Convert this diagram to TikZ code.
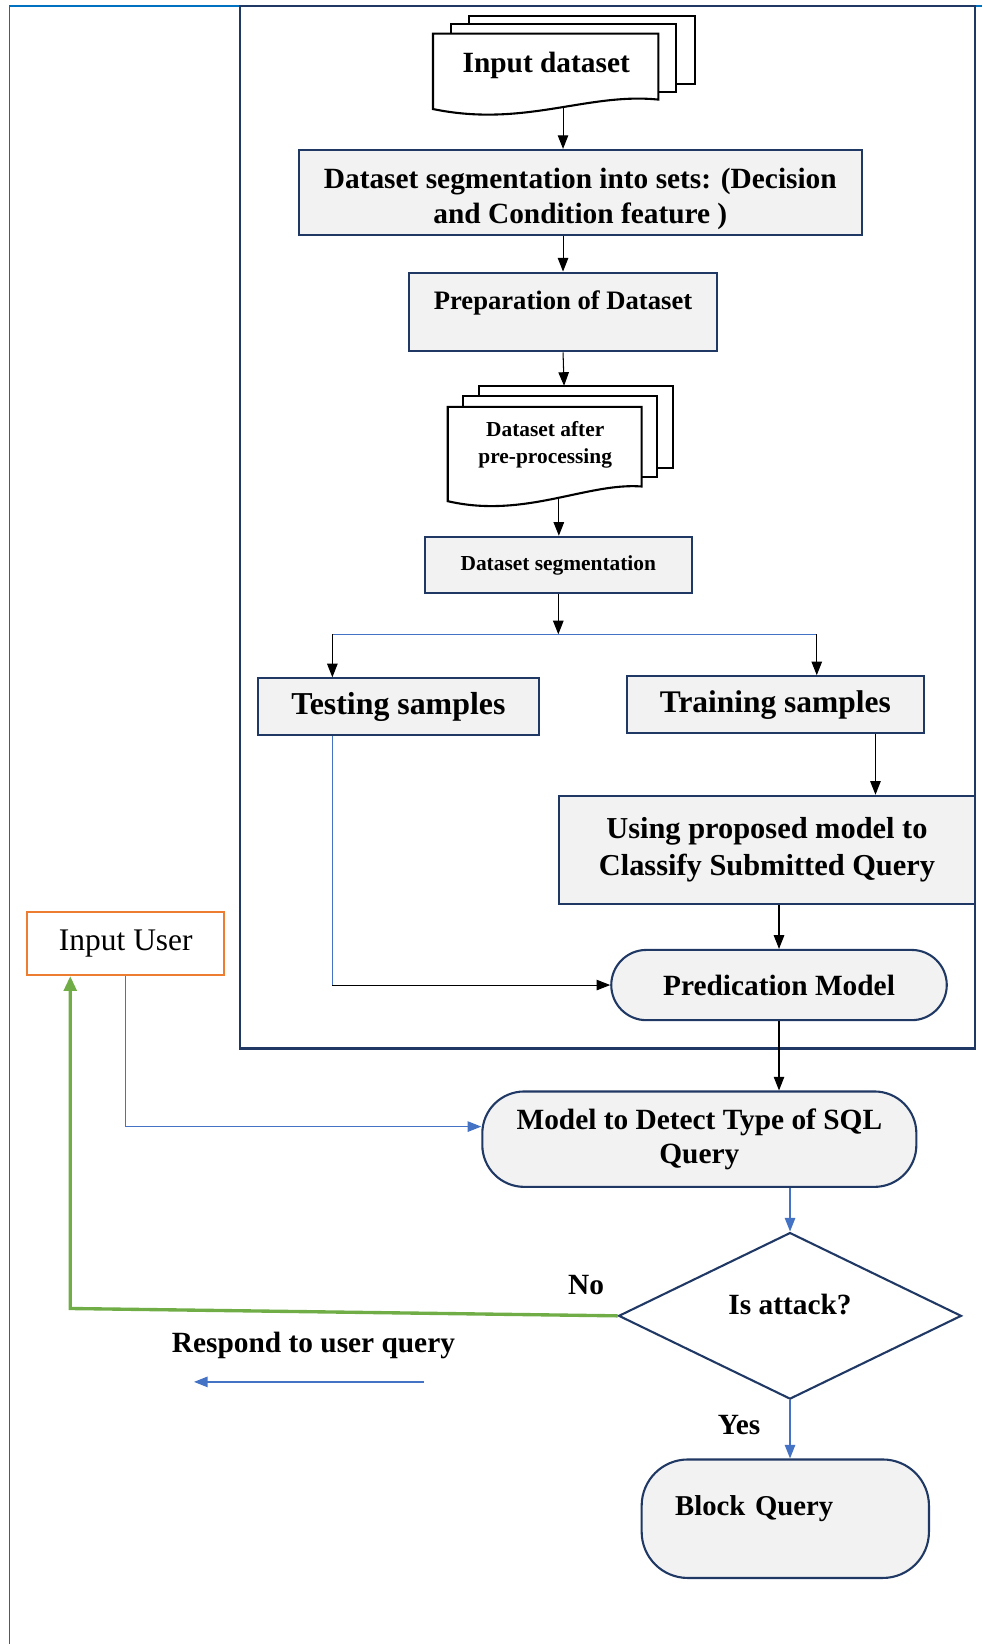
\documentclass[tikz,border=0pt]{standalone}
\usepackage{fontspec}
\setmainfont{Liberation Serif}
\usetikzlibrary{arrows.meta,positioning,calc,shapes.geometric}

\definecolor{navy}{HTML}{1F3864}
\definecolor{boxgray}{HTML}{F2F2F2}
\definecolor{lineblue}{HTML}{4472C4}
\definecolor{frameblue}{HTML}{0070C0}
\definecolor{okgreen}{HTML}{70AD47}
\definecolor{userorange}{HTML}{ED7D31}

\begin{document}
\begin{tikzpicture}[
  x=0.5pt, y=-0.5pt,
  font=\bfseries,
  proc/.style={rectangle,draw=navy,line width=1pt,fill=boxgray,align=center,inner sep=2pt},
  term/.style={proc,rounded corners=#1},
  docline/.style={draw=black,fill=white,line width=1pt},
  lbl/.style={inner sep=0pt,align=center},
  ar/.style={-{Triangle[length=6.5pt,width=5pt]},line width=0.5pt},
  bar/.style={-{Triangle[length=6.5pt,width=5pt]},draw=lineblue,line width=0.6pt},
  bline/.style={draw=lineblue,line width=0.5pt},
  gar/.style={-{Triangle[length=7pt,width=6pt]},draw=okgreen,line width=1.6pt}
]
\useasboundingbox (0,0) rectangle (937,1568);

% frames
\draw[frameblue,line width=0.8pt] (9,1568) -- (9,6) -- (937,6);
\draw[navy,line width=1pt] (229,6) rectangle (930,1000);

% input dataset (stacked documents)
\filldraw[docline] (447,15) rectangle (663,80);
\filldraw[docline] (430,23) rectangle (645,88);
\filldraw[docline] (413,32) -- (628,32) -- (628,95) .. controls (560,88) and (500,122) .. (413,104) -- cycle;
\node[lbl,font=\bfseries\fontsize{14}{16}\selectfont] (indata) at (521,62) {Input dataset};
\coordinate (indatabot) at (537,103);

\node[proc,minimum width=268.5pt,minimum height=40.5pt,font=\bfseries\fontsize{14}{17}\selectfont] (seg) at (553.5,183.5)
  {\rule{0pt}{16pt}Dataset segmentation into sets: (Decision\\and Condition feature )};
\node[proc,minimum width=147pt,minimum height=37.5pt,text depth=11.5pt,font=\bfseries\fontsize{12.7}{15}\selectfont] (prep) at (537,297.5)
  {Preparation of Dataset};

% dataset after pre-processing
\filldraw[docline] (457,368) rectangle (642,446);
\filldraw[docline] (442,378) rectangle (627,455);
\filldraw[docline] (427,388) -- (612,388) -- (612,464) .. controls (560,460) and (500,495) .. (427,478) -- cycle;
\node[lbl,font=\bfseries\fontsize{10.2}{13}\selectfont] (ppdata) at (520,424) {Dataset after\\pre-processing};
\coordinate (pptop) at (538,368);
\coordinate (ppbot) at (533,476);

\node[proc,minimum width=127.5pt,minimum height=27pt,font=\bfseries\fontsize{10.2}{12}\selectfont] (dseg) at (532.5,539)
  {Dataset segmentation};

\coordinate (splitL) at (317,605);
\coordinate (splitR) at (779,605);

\node[proc,minimum width=134pt,minimum height=27pt,font=\bfseries\fontsize{15.2}{17}\selectfont] (test) at (380,674) {Testing samples};
\node[proc,minimum width=141.5pt,minimum height=27pt,font=\bfseries\fontsize{15}{17}\selectfont] (train) at (739.5,672) {Training samples};
\node[proc,minimum width=198.5pt,minimum height=51.5pt,font=\bfseries\fontsize{14.5}{17.5}\selectfont] (using) at (731.5,810.5)
  {Using proposed model to\\Classify Submitted Query};
\node[term=16.75pt,minimum width=160pt,minimum height=33.5pt,font=\bfseries\fontsize{14}{16}\selectfont] (pred) at (743,939.5) {Predication Model};

\node[rectangle,draw=userorange,line width=1pt,minimum width=94pt,minimum height=30pt,font=\fontsize{15}{17}\selectfont] (user) at (120,900) {Input User};

\node[term=20pt,minimum width=207pt,minimum height=45.5pt,font=\bfseries\fontsize{14}{16.5}\selectfont] (detect) at (667,1086.5)
  {Model to Detect Type of SQL\\Query};
\node[diamond,draw=navy,line width=1pt,fill=white,minimum width=163.5pt,minimum height=77pt,inner sep=0pt,text depth=11pt,font=\bfseries\fontsize{14}{16}\selectfont] (attack) at (753.5,1255) {Is attack?};
\node[term=22pt,minimum width=137pt,minimum height=56.5pt,text width=105pt,align=left,inner xsep=16pt,text depth=12.5pt,font=\bfseries\fontsize{13.7}{15}\selectfont] (block) at (749,1448.5) {Block Query};

\node[lbl,font=\bfseries\fontsize{14}{16}\selectfont] (no) at (559,1226) {No};
\node[lbl,font=\bfseries\fontsize{14}{16}\selectfont] (yes) at (705,1359) {Yes};
\node[lbl,font=\bfseries\fontsize{14}{16}\selectfont] (respond) at (299,1283) {Respond to user query};
\coordinate (respR) at (404,1318);
\coordinate (respL) at (185,1318);
\coordinate (nocorner) at (67,1248);

% connectors
\draw[ar] (indatabot) -- (indatabot |- seg.north);
\draw[ar] (seg.south -| prep) -- (prep.north);
\draw[ar] (prep.south) -- (pptop);
\draw[ar] (ppbot) -- (ppbot |- dseg.north);
\draw[ar] (dseg.south) -- (dseg.south |- splitL);
\draw[bline] (splitL) -- (splitR);
\draw[ar] (splitL) -- (splitL |- test.north);
\draw[ar] (splitR) -- (splitR |- train.north);
\draw[ar] ([xshift=47.75pt]train.south) coordinate (trainout) -- (trainout |- using.north);
\draw[ar] (using.south -| pred) -- (pred.north);
\draw[bline] (test.south -| splitL) -- (splitL |- pred.west) coordinate (tcorner);
\draw[ar] (tcorner) -- (pred.west);
\draw[ar] (pred.south) -- (pred.south |- detect.north);
\draw[bar] (user.south) |- ([yshift=6pt]detect.west);
\draw[bar] (attack.north |- detect.south) -- (attack.north);
\draw[bar] (attack.south) -- (attack.south |- block.north);
\draw[gar] (attack.west) -- (nocorner) -- (nocorner |- user.south);
\draw[bar] (respR) -- (respL);
\end{tikzpicture}
\end{document}
